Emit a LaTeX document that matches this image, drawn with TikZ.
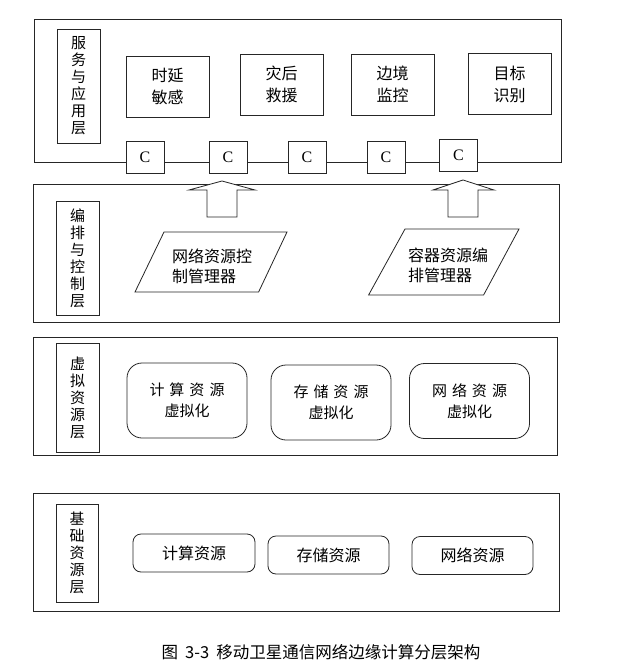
\documentclass[tikz,border=0pt]{standalone}
\usepackage{fontspec}
\setmainfont{Liberation Serif}
\newfontfamily\cjk{Noto Sans CJK SC}
\usetikzlibrary{positioning}
\tikzstyle{layer} = [rectangle, draw=black!85, line width=0.9pt, minimum width=526pt]
\tikzstyle{tag} = [rectangle, draw=black!85, line width=0.8pt, align=center, inner sep=0pt, minimum width=43pt, font=\cjk\fontsize{15}{17}\selectfont]
\tikzstyle{app} = [rectangle, draw=black!85, line width=0.8pt, minimum width=83pt, minimum height=61pt, align=center, font=\cjk\fontsize{16}{22}\selectfont]
\tikzstyle{cbox} = [rectangle, draw=black!85, fill=white, line width=0.8pt, minimum width=38pt, minimum height=32pt, inner sep=0pt, font=\fontsize{16}{18}\selectfont]
\tikzstyle{vbox} = [rectangle, rounded corners=15pt, draw=black!85, line width=0.8pt, minimum width=120pt, minimum height=75pt, align=center, font=\cjk\fontsize{15}{21}\selectfont]
\tikzstyle{rbox} = [rectangle, rounded corners=8pt, draw=black!85, line width=0.8pt, minimum width=121pt, minimum height=38pt, font=\cjk\fontsize{16}{20}\selectfont]
\tikzstyle{mgr} = [align=left, inner sep=0pt, font=\cjk\fontsize{16}{20}\selectfont]
\tikzstyle{bigarrow} = [draw=black!85, fill=white, line width=0.8pt, line join=miter]
\newcommand{\gap}{\hspace{5pt}}

\begin{document}
\begin{tikzpicture}[x=1pt, y=-1pt]
  \useasboundingbox[fill=white] (0,0) rectangle (623,671);

  % 服务与应用层
  \node[layer, minimum width=527pt, minimum height=143pt] (applayer) at (297.5,90.5) {};
  \node[tag, minimum height=114pt] (apptag) at (78.5,86) {服\\务\\与\\应\\用\\层};
  \node[app] (delay) at (167.5,86.5) {时延\\敏感};
  \node[app] (rescue) at (281.5,84.5) {灾后\\救援};
  \node[app] (border) at (392.5,84.5) {边境\\监控};
  \node[app] (target) at (509.5,84) {目标\\识别};
  \node[cbox] (c1) at (145,157) {C};
  \node[cbox] (c2) at (228,157) {C};
  \node[cbox] (c3) at (307,157) {C};
  \node[cbox] (c4) at (386,157) {C};
  \node[cbox] (c5) at (458.5,155) {C};

  % 编排与控制层
  \node[layer, minimum height=138pt] (ctrllayer) at (296,253) {};
  \node[tag, minimum height=114pt] (ctrltag) at (77.5,258) {编\\排\\与\\控\\制\\层};
  \draw[draw=black!85, line width=0.8pt] (164,232) -- (287,232) -- (258.6,292) -- (135,292) -- cycle;
  \draw[draw=black!85, line width=0.8pt] (405,229) -- (519,229) -- (483.6,295) -- (368.6,295) -- cycle;
  \node[mgr] (netmgr) at (212,266.5) {网络资源控\\制管理器};
  \node[mgr] (ctrmgr) at (448,265.3) {容器资源编\\排管理器};

  % 空心箭头
  \coordinate (up1) at (222,217);
  \coordinate (up2) at (463,217);
  \draw[bigarrow] (up1) ++(-15,0) -- ++(0,-27) -- ++(-18,0) -- (222,181) -- ++(33,9) -- ++(-18,0) -- ++(0,27) -- cycle;
  \draw[bigarrow] (up2) ++(-15,0) -- ++(0,-27) -- ++(-15,0) -- (463,180) -- ++(31,10) -- ++(-16,0) -- ++(0,27) -- cycle;

  % 虚拟资源层
  \node[layer, minimum width=524pt, minimum height=118pt] (virtlayer) at (295,396) {};
  \node[tag, minimum height=109pt] (virttag) at (77.5,397.5) {虚\\拟\\资\\源\\层};
  \node[vbox] (vcomp) at (187,400.5) {计\gap 算\gap 资\gap 源\\虚拟化};
  \node[vbox] (vstor) at (331,402.5) {存\gap 储\gap 资\gap 源\\虚拟化};
  \node[vbox] (vnet) at (469.5,401) {网\gap 络\gap 资\gap 源\\虚拟化};

  % 基础资源层
  \node[layer, minimum height=118pt] (baselayer) at (296,552) {};
  \node[tag, minimum width=42pt, minimum height=98pt] (basetag) at (77,553) {基\\础\\资\\源\\层};
  \node[rbox, minimum width=122pt] (comp) at (194,553) {计算资源};
  \node[rbox] (stor) at (328.5,555) {存储资源};
  \node[rbox] (net) at (472.5,555.5) {网络资源};

  % 图题
  \node[font=\cjk\fontsize{16.5}{20}\selectfont] (caption) at (321,652) {图\hspace{7pt}3-3\hspace{7pt}移动卫星通信网络边缘计算分层架构};
\end{tikzpicture}
\end{document}
